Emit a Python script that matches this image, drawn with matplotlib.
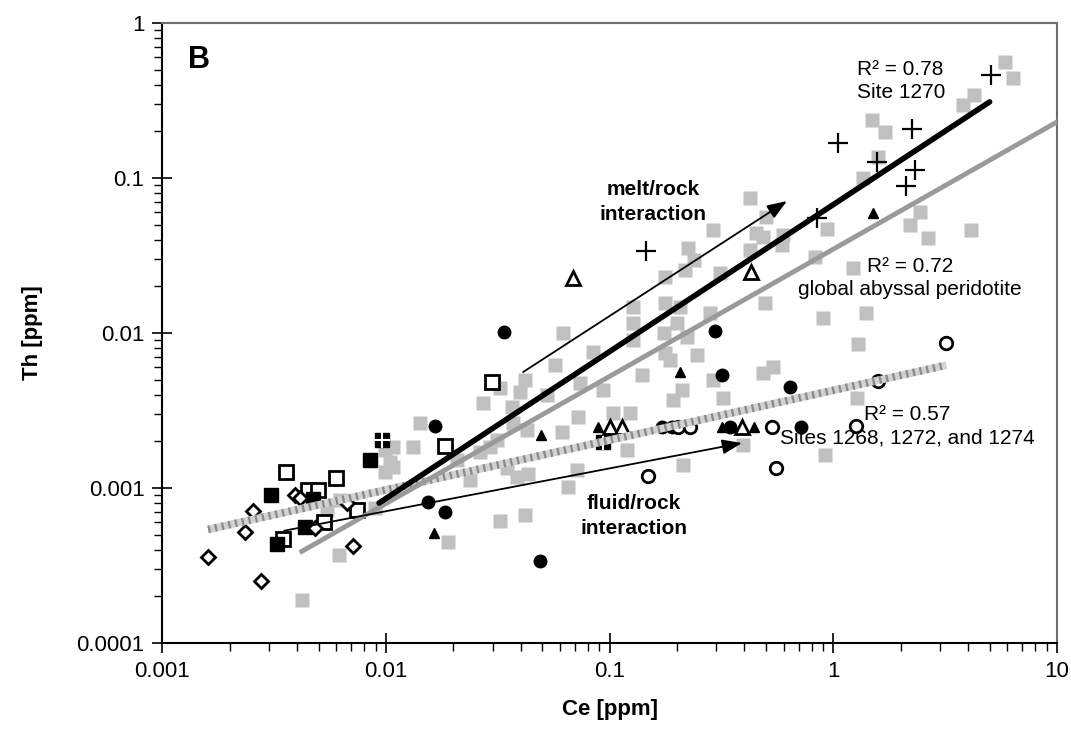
import matplotlib
matplotlib.use("Agg")
import matplotlib.pyplot as plt
from matplotlib.ticker import LogLocator, FuncFormatter, NullFormatter

plt.rcParams['font.family'] = ['Liberation Sans', 'DejaVu Sans']

# global abyssal peridotite (grey squares)
glob_ce = [5.86, 6.34, 4.26, 3.81, 1.49, 1.70, 1.59, 1.36, 0.935, 2.44, 2.2, 2.66, 4.11,
           1.23, 0.90, 1.40, 1.29, 1.27, 0.918, 0.424, 0.499, 0.29, 0.451, 0.486, 0.597,
           0.588, 0.424, 0.225, 0.237, 0.217, 0.311, 0.177, 0.828, 0.495, 0.1275, 0.1275,
           0.177, 0.206, 0.281, 0.1275, 0.174, 0.1995, 0.221, 0.177, 0.186, 0.245, 0.139,
           0.29, 0.486, 0.539, 0.21, 0.192, 0.322, 0.0936, 0.1038, 0.123, 0.119, 0.213,
           0.396, 0.0841, 0.0618, 0.0569, 0.0418, 0.0323, 0.0272, 0.0397, 0.0523, 0.0736,
           0.0365, 0.0142, 0.01324, 0.01077, 0.01077, 0.0425, 0.061, 0.0724, 0.0292, 0.0263,
           0.0312, 0.0346, 0.0432, 0.0237, 0.0384, 0.0712, 0.0653, 0.0323, 0.0418, 0.019,
           0.037, 0.0207, 0.0042, 0.00618, 0.0089, 0.0099, 0.0104, 0.0099, 0.0062, 0.00542]
glob_th = [0.563, 0.44, 0.343, 0.296, 0.237, 0.199, 0.137, 0.0995, 0.0467, 0.0606, 0.0497,
           0.0408, 0.0462, 0.0261, 0.01245, 0.0134, 0.0085, 0.00379, 0.00163, 0.074, 0.0563,
           0.0462, 0.044, 0.0418, 0.0429, 0.037, 0.0343, 0.0352, 0.0296, 0.0255, 0.0243,
           0.0231, 0.031, 0.01555, 0.0148, 0.01155, 0.01555, 0.0148, 0.0134, 0.009, 0.00995,
           0.01155, 0.00946, 0.0074, 0.0067, 0.0072, 0.00536, 0.00498, 0.0055, 0.00606,
           0.00429, 0.0037, 0.00379, 0.00429, 0.00303, 0.00303, 0.00176, 0.00141, 0.00189,
           0.00754, 0.01, 0.00622, 0.00498, 0.0044, 0.00352, 0.00418, 0.00398, 0.00474,
           0.00335, 0.00261, 0.00185, 0.00185, 0.00137, 0.00237, 0.00231, 0.00288, 0.00185,
           0.00171, 0.00204, 0.00134, 0.00124, 0.00113, 0.00118, 0.00131, 0.00102, 0.00061,
           0.00067, 0.00045, 0.00261, 0.00152, 0.000189, 0.00037, 0.00074, 0.00176, 0.00147,
           0.00127, 0.00084, 0.00072]

# Site 1270 (plus)
plus_ce = [0.145, 0.843, 1.05, 1.56, 2.24, 2.32, 2.11, 5.06]
plus_th = [0.034, 0.055, 0.1675, 0.127, 0.206, 0.1127, 0.0888, 0.462]

# filled circles
fcirc_ce = [0.0337, 0.01655, 0.01535, 0.0183, 0.0488, 0.296, 0.319, 0.64, 0.715, 0.171, 0.19, 0.345]
fcirc_th = [0.0101, 0.0025, 0.00081, 0.0007, 0.00034, 0.01035, 0.00536, 0.0045, 0.00249,
            0.00249, 0.00249, 0.00249]

# open circles
ocirc_ce = [0.203, 0.229, 0.53, 1.26, 1.59, 3.18, 0.555, 0.148]
ocirc_th = [0.00249, 0.00249, 0.00249, 0.0025, 0.0049, 0.0086, 0.00134, 0.00119]

# filled triangles
ftri_ce = [0.0494, 0.01643, 0.0889, 0.206, 0.317, 0.443, 1.51]
ftri_th = [0.0022, 0.00051, 0.00249, 0.0056, 0.00249, 0.00249, 0.0592]

# open triangles
otri_ce = [0.1, 0.113, 0.389, 0.427, 0.0683]
otri_th = [0.00249, 0.00249, 0.00249, 0.0249, 0.0225]

# open squares
osq_ce = [0.00357, 0.006, 0.0074, 0.00528, 0.00449, 0.00498, 0.00347, 0.0297, 0.0183]
osq_th = [0.00126, 0.00116, 0.00072, 0.0006, 0.00097, 0.00097, 0.00047, 0.00485, 0.00187]

# filled squares
fsq_ce = [0.0085, 0.00305, 0.0047, 0.00434, 0.00324]
fsq_th = [0.00152, 0.0009, 0.000845, 0.00056, 0.000435]

# filled squares with white cross
xsq_ce = [0.0096, 0.0936]
xsq_th = [0.00204, 0.00199]

# open diamonds
dia_ce = [0.0016, 0.00276, 0.00234, 0.00253, 0.0039, 0.0041, 0.0048, 0.00667, 0.0071]
dia_th = [0.00036, 0.00025, 0.00052, 0.00071, 0.0009, 0.00086, 0.00055, 0.0008, 0.00042]

# regression lines (end points)
fit1270_ce = [0.0093, 5.0]
fit1270_th = [0.0008, 0.31]
fitglob_ce = [0.0042, 10.0]
fitglob_th = [0.00039, 0.23]
fitsites_ce = [0.0016, 3.2]
fitsites_th = [0.00054, 0.0062]

# interaction arrows (start, end)
melt_ce = [0.041, 0.62]
melt_th = [0.0056, 0.071]
fluid_ce = [0.0035, 0.39]
fluid_th = [0.00053, 0.00195]

fig, ax = plt.subplots(figsize=(10.71, 7.29), dpi=100)
fig.subplots_adjust(left=0.1517, right=0.9869, top=0.9684, bottom=0.118)

ax.set_xscale('log')
ax.set_yscale('log')
ax.set_xlim(0.001, 10)
ax.set_ylim(0.0001, 1)

ax.plot(glob_ce, glob_th, 's', ms=10.5, color='#c0c0c0', mec='none', zorder=2)

ax.plot(osq_ce, osq_th, 's', ms=10, mfc='white', mec='black', mew=2, zorder=3)
ax.plot(fsq_ce, fsq_th, 's', ms=9.5, color='black', zorder=3)
ax.plot(xsq_ce, xsq_th, 's', ms=9.5, color='black', zorder=3)
ax.plot(xsq_ce, xsq_th, '+', ms=11, color='white', mew=1.5, zorder=3)
ax.plot(dia_ce, dia_th, 'D', ms=7.5, mfc='white', mec='black', mew=2, zorder=3)
ax.plot(fcirc_ce, fcirc_th, 'o', ms=9, color='black', zorder=3)
ax.plot(ocirc_ce, ocirc_th, 'o', ms=9, mfc='white', mec='black', mew=2, zorder=3)
ax.plot(ftri_ce, ftri_th, '^', ms=7, color='black', zorder=3)
ax.plot(otri_ce, otri_th, '^', ms=10, mfc='white', mec='black', mew=2, zorder=3)
ax.plot(plus_ce, plus_th, '+', ms=14, color='black', mew=1.6, zorder=3)

# regression lines
ax.plot(fitsites_ce, fitsites_th, '-', color='#d2d2d2', lw=5.5, solid_capstyle='butt', zorder=4)
ax.plot(fitsites_ce, fitsites_th, color='#8a8a8a', lw=5.5, ls=(0, (0.3, 0.6)),
        solid_capstyle='butt', zorder=4)
ax.plot(fitglob_ce, fitglob_th, '-', color='#9a9a9a', lw=3.5, zorder=4)
ax.plot(fit1270_ce, fit1270_th, '-', color='black', lw=4, solid_capstyle='round', zorder=5)

arrow_kw = dict(arrowstyle='-|>,head_length=0.8,head_width=0.3', color='black', lw=1.3,
                mutation_scale=15, shrinkA=0, shrinkB=0)
ax.annotate('', xy=(melt_ce[1], melt_th[1]), xytext=(melt_ce[0], melt_th[0]),
            arrowprops=arrow_kw, zorder=6)
ax.annotate('', xy=(fluid_ce[1], fluid_th[1]), xytext=(fluid_ce[0], fluid_th[0]),
            arrowprops=arrow_kw, zorder=6)

# labels
ax.text(0.029, 0.965, 'B', transform=ax.transAxes, fontsize=22, fontweight='bold',
        ha='left', va='top')
ax.text(0.156, 0.07, 'melt/rock\ninteraction', fontsize=15, fontweight='bold',
        ha='center', va='center', linespacing=1.4, zorder=7)
ax.text(0.1285, 0.00066, 'fluid/rock\ninteraction', fontsize=15, fontweight='bold',
        ha='center', va='center', linespacing=1.4, zorder=7)
ax.text(1.28, 0.58, 'R² = 0.78\nSite 1270', fontsize=15, ha='left', va='top',
        linespacing=1.3, zorder=7)
ax.text(2.2, 0.031, 'R² = 0.72\nglobal abyssal peridotite', fontsize=15, ha='center',
        va='top', linespacing=1.3, zorder=7)
ax.text(2.15, 0.00343, 'R² = 0.57\nSites 1268, 1272, and 1274', fontsize=15, ha='center',
        va='top', linespacing=1.3, zorder=7)

ax.set_xlabel('Ce [ppm]', fontsize=16, fontweight='bold', labelpad=12)
ax.set_ylabel('Th [ppm]', fontsize=16, fontweight='bold', labelpad=24)

fmt = FuncFormatter(lambda v, _: f"{v:g}")
for axis in (ax.xaxis, ax.yaxis):
    axis.set_major_locator(LogLocator(base=10, numticks=10))
    axis.set_minor_locator(LogLocator(base=10, subs=range(2, 10), numticks=10))
    axis.set_major_formatter(fmt)
    axis.set_minor_formatter(NullFormatter())

ax.tick_params(which='major', direction='inout', length=14, width=1.2, labelsize=16, pad=6)
ax.tick_params(which='minor', direction='out', length=6, width=1.0)
ax.tick_params(top=False, right=False, which='both')

for side in ('left', 'bottom'):
    ax.spines[side].set_linewidth(1.5)
    ax.spines[side].set_color('black')
for side in ('top', 'right'):
    ax.spines[side].set_linewidth(1.5)
    ax.spines[side].set_color('#6e6e6e')

fig.savefig('out.png', dpi=100)
